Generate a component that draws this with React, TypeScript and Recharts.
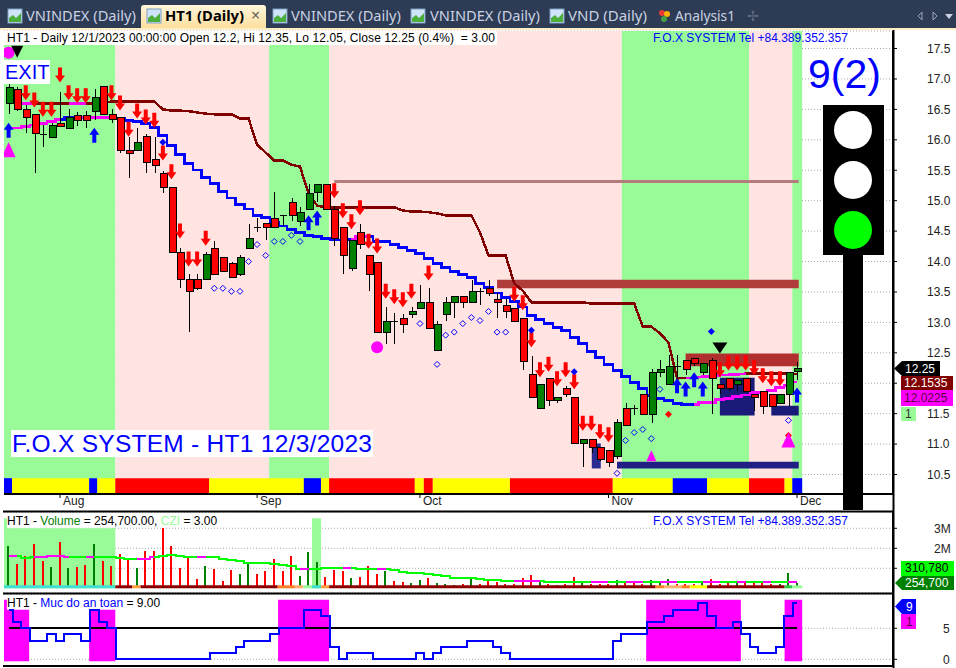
import React from "react";
import { ComposedChart, Bar, Line, Scatter, XAxis, YAxis, CartesianGrid, ReferenceArea } from "recharts";

const FONT = "'Liberation Sans', Arial, sans-serif";
const monthLabels: Record<number, string> = { 6: "Aug", 29: "Sep", 48: "Oct", 70: "Nov", 92: "Dec" };
const monthTicks = [6, 29, 48, 70, 92];
const priceTicks = [10.5, 11, 11.5, 12, 12.5, 13, 13.5, 14, 14.5, 15, 15.5, 16, 16.5, 17, 17.5];
const volumeTicks = [1, 2, 3];
const safetyTicks = [0, 5];

const opens = [16.60,16.84,16.51,16.42,16.10,16.05,16.27,16.20,16.40,16.40,16.47,16.89,16.42,16.37,15.84,15.84,16.07,15.69,15.45,15.22,14.15,13.71,13.71,13.71,14.23,14.08,13.98,13.80,14.23,14.56,14.63,14.72,14.77,14.97,14.66,14.87,15.15,15.27,14.87,14.56,13.89,14.48,14.10,14.00,12.85,13.03,13.08,13.13,13.23,13.33,12.55,13.13,13.33,13.43,13.33,13.52,13.57,13.38,13.28,13.23,13.08,12.16,11.59,12.08,11.73,11.93,11.78,11.01,11.09,10.95,10.90,10.80,11.59,11.59,11.83,11.49,12.18,11.98,12.29,12.38,12.42,12.18,12.38,11.98,12.08,11.98,12.08,11.83,11.88,11.83,11.68,11.83,12.2];
const highs = [16.91,16.87,16.57,16.43,16.25,16.27,16.79,16.50,16.45,16.47,16.84,16.89,16.50,16.37,16.04,16.20,16.10,16.05,15.48,15.22,14.23,13.79,13.79,14.15,14.33,14.08,14.00,14.10,14.61,14.71,14.63,15.15,14.77,15.05,14.89,15.28,15.27,15.28,14.92,14.56,14.35,14.61,14.10,14.00,13.26,13.16,13.13,13.26,13.61,13.56,13.02,13.41,13.43,13.43,13.69,13.57,13.69,13.48,13.38,13.23,13.08,12.44,11.98,12.08,11.78,11.96,11.78,11.09,11.09,10.95,10.90,11.42,11.67,11.65,11.83,12.23,12.38,12.47,12.47,12.38,12.42,12.34,12.42,11.98,12.08,12.05,12.08,11.83,11.88,11.83,11.83,12.18,12.35];
const lows = [16.43,16.47,16.12,15.46,15.89,16.04,16.22,16.17,16.22,16.19,16.32,16.42,16.27,15.79,15.37,15.81,15.46,15.46,15.13,14.15,13.57,12.85,13.54,13.69,13.79,13.82,13.74,13.77,14.23,14.48,14.35,14.56,14.58,14.67,14.58,14.87,14.97,14.87,14.25,13.80,13.85,14.20,13.52,12.85,12.65,12.65,12.82,13.08,13.23,12.90,12.55,13.03,13.08,13.23,13.33,13.28,13.43,13.08,13.08,13.03,12.21,11.75,11.59,11.63,11.68,11.78,11.01,10.62,10.86,10.72,10.62,10.76,11.31,11.47,11.49,11.34,12.11,11.98,12.08,12.14,12.29,12.13,11.50,11.83,11.88,11.88,11.88,11.54,11.50,11.63,11.68,11.63,12.05];
const closes = [16.86,16.51,16.37,16.12,16.10,16.25,16.22,16.37,16.32,16.32,16.70,16.42,16.35,15.84,15.79,15.97,15.64,15.59,15.22,14.15,13.71,13.52,13.56,14.13,13.80,13.85,13.75,14.08,14.38,14.56,14.56,14.56,14.77,14.76,14.82,15.12,15.27,14.87,14.38,14.10,14.35,14.28,13.79,12.85,13.03,13.03,12.97,13.18,13.33,12.90,12.98,13.33,13.43,13.33,13.52,13.52,13.48,13.33,13.18,13.03,12.36,11.78,11.98,11.73,11.78,11.83,11.01,11.09,10.95,10.75,10.70,11.37,11.32,11.59,11.49,12.19,12.24,12.29,12.29,12.23,12.34,12.34,12.08,11.93,11.93,12.05,11.88,11.78,11.63,11.63,11.83,12.18,12.25];
const stopLine: (number | null)[] = [null,16.60,16.60,16.60,16.60,16.60,16.60,16.60,16.60,16.60,16.60,16.60,16.63,16.63,16.63,16.63,16.63,16.63,16.50,16.48,16.48,16.47,16.45,16.43,16.42,16.42,16.42,16.35,16.35,15.92,15.79,15.66,15.66,15.59,15.56,15.12,14.92,14.89,14.89,14.89,14.89,14.89,14.89,14.89,14.89,14.89,14.84,14.82,14.82,14.81,14.79,14.76,14.76,14.76,14.76,14.48,14.10,14.10,14.10,13.64,13.52,13.33,13.33,13.33,13.33,13.33,13.33,13.33,13.31,13.31,13.31,13.31,13.31,13.31,12.93,12.93,12.82,12.67,12.08,12.09,12.09,12.11,12.11,12.13,12.14,12.14,12.16,12.16,12.16,12.16,12.16,12.16,12.1535];
const trendLine = [16.19,16.19,16.22,16.24,16.27,16.30,16.33,16.37,16.37,16.37,16.37,16.37,16.37,16.35,16.32,16.30,16.27,16.20,16.07,15.91,15.76,15.61,15.50,15.38,15.28,15.15,15.04,14.94,14.86,14.76,14.72,14.64,14.58,14.53,14.48,14.43,14.41,14.38,14.35,14.35,14.36,14.41,14.41,14.33,14.33,14.28,14.23,14.18,14.13,14.05,13.97,13.90,13.84,13.79,13.74,13.64,13.57,13.48,13.41,13.34,13.25,13.11,13.05,12.98,12.92,12.87,12.75,12.65,12.52,12.42,12.31,12.21,12.11,12.01,11.91,11.80,11.75,11.72,11.67,11.65,11.65,11.68,11.68,11.73,11.75,11.78,11.81,11.85,11.85,11.88,11.93,11.96,12.0225];
const stopMagentaSpans = [[1, 3], [7, 9], [79, 86]];
const trendMagentaSpans = [[0, 6], [8, 13], [40, 42], [80, 92]];

const volumes = [2.10,1.20,1.60,2.20,1.35,1.05,2.30,1.00,1.05,1.15,2.20,1.35,1.10,1.70,1.50,1.00,1.85,1.85,3.00,2.10,1.00,1.50,0.45,1.10,0.95,0.35,0.90,0.70,1.30,0.70,0.85,1.45,0.85,1.60,0.60,1.80,1.30,0.55,0.90,0.85,0.50,0.55,1.10,0.70,0.85,0.35,0.30,0.25,0.40,0.53,0.28,0.23,0.18,0.23,0.48,0.23,0.40,0.32,0.23,0.23,0.52,0.68,0.40,0.23,0.18,0.23,0.55,0.28,0.23,0.23,0.23,0.43,0.27,0.27,0.23,0.43,0.32,0.48,0.23,0.23,0.20,0.28,0.48,0.23,0.27,0.32,0.32,0.27,0.27,0.20,0.20,0.78,0.2547];
const volumeAvg = [1.60,1.60,1.52,1.57,1.57,1.60,1.60,1.57,1.57,1.57,1.57,1.57,1.57,1.53,1.48,1.48,1.48,1.57,1.60,1.65,1.62,1.57,1.57,1.57,1.57,1.48,1.40,1.37,1.28,1.28,1.28,1.23,1.18,1.10,0.98,0.98,0.98,1.02,1.02,1.02,1.02,0.97,0.97,0.97,0.97,0.90,0.82,0.77,0.77,0.72,0.67,0.60,0.53,0.52,0.50,0.47,0.43,0.40,0.35,0.35,0.35,0.35,0.35,0.33,0.32,0.32,0.32,0.32,0.32,0.32,0.32,0.32,0.32,0.32,0.32,0.32,0.32,0.32,0.32,0.32,0.32,0.32,0.32,0.32,0.32,0.32,0.32,0.32,0.32,0.32,0.32,0.32,0.3108];
const volumeMagentaSpans = [[0, 1], [3, 4], [5, 7], [9, 10], [15, 17], [22, 23], [34, 35], [39, 40], [43, 44], [59, 62], [68, 70], [72, 74], [76, 78], [81, 83], [85, 86], [88, 89], [91, 92]];
const safety = [8,6,5,3,3,4,3,4,4,3,8,6,5,0,0,0,0,0,0,0,0,0,0,0,1,1,1,2,3,3,3,4,5,5,5,8,8,7,2,0,1,1,1,0,0,0,0,0,1,0,1,2,2,2,3,3,3,2,1,0,0,0,0,0,0,0,0,0,0,0,0,3,4,4,4,6,6,7,8,8,8,9,7,5,5,6,4,2,1,1,2,7,9];
const safetyLevel = 5;

const redArrowIdx = [2,3,4,5,6,7,8,9,12,13,14,15,16,17,18,19,20,21,22,23,38,39,40,41,42,43,44,45,46,47,49,59,60,61,62,63,64,65,66,67,68,69,70,83,84,85,86,87,88,89,90];
const redArrowPrice = [16.65,16.53,16.38,16.38,16.94,16.65,16.60,16.60,16.65,16.48,16.05,16.35,16.25,16.20,15.66,15.35,14.38,13.92,13.92,14.26,15.04,14.71,14.53,14.76,14.21,14.13,13.39,13.30,13.25,13.39,13.69,13.34,13.20,12.59,12.10,12.19,11.95,12.10,11.90,11.22,11.22,11.08,11.03,12.10,12.21,12.21,12.21,12.13,12.00,11.95,11.95];
const blueArrowIdx = [0,10,35,36,78,79,80,81,92];
const blueArrowPrice = [16.28,16.20,14.76,14.84,12.08,12.03,12.18,12.03,11.93];
const openDiamondIdx = [24,25,26,27,28,29,30,31,32,33,34,48,50,51,52,53,54,55,56,57,58,71,72,73,74,75,76,91];
const openDiamondPrice = [13.56,13.56,13.51,13.51,14.00,14.28,14.10,14.33,14.33,14.43,14.33,12.98,12.31,12.79,12.84,12.98,13.08,13.03,13.18,12.84,12.84,10.52,11.06,11.19,11.24,11.09,11.90,11.39];
const solidDiamondIdx = [18,61,66,82];
const solidDiamondPrice = [15.96,12.87,12.19,12.85];
const redDotIdx = [77,91];
const redDotPrice = [11.49,11.14];
const circleIdx = [0,43];
const circlePrice = [17.43,12.59];
const bigTriangleIdx = [0,91];
const bigTrianglePrice = [15.96,11.19];
const smallTriangleIdx = [75];
const smallTrianglePrice = [10.90];
const smallBlackIdx = [1];
const smallBlackPrice = [17.35];
const bigBlackIdx = [83];
const bigBlackPrice = [12.49];

const xMin = -0.537;
const zoneRanges: [number, number, string][] = [
  [xMin, 12.45, "#98fb98"], [12.45, 30.4, "#ffe4e1"], [30.4, 37.4, "#98fb98"], [37.4, 71.55, "#ffe4e1"],
  [71.55, 86.4, "#98fb98"], [86.4, 91.45, "#ffe4e1"], [91.45, 92.6, "#98fb98"],
];
const stripRanges: [number, number, string][] = [
  [xMin, 0.4, "#0000ff"], [0.4, 9.4, "#ffff00"], [9.4, 10.35, "#0000ff"], [10.35, 12.45, "#ffff00"], [12.45, 23.4, "#ff0000"],
  [23.4, 34.45, "#ffff00"], [34.45, 36.45, "#0000ff"], [36.45, 37.4, "#ffff00"], [37.4, 47.4, "#ff0000"], [47.4, 48.45, "#ffff00"],
  [48.45, 49.5, "#ff0000"], [49.5, 58.5, "#ffff00"], [58.5, 70.5, "#ff0000"], [70.5, 77.5, "#ffff00"], [77.5, 81.5, "#0000ff"],
  [81.5, 86.4, "#ffff00"], [86.4, 90.55, "#ff0000"], [90.55, 91.45, "#ffff00"], [91.45, 92.6, "#0000ff"],
];
const priceBands: [number, number, number, number, string][] = [
  [38, 92.2, 15.34, 15.29, "#b47c7c"],
  [57, 92.2, 13.70, 13.56, "#b03c3c"],
  [79, 92.2, 12.49, 12.28, "#b03030"],
  [71, 92.2, 10.71, 10.60, "#1f1f85"],
  [68.05, 69.1, 11.01, 10.60, "#2a2a90"],
  [83, 87.05, 12.09, 11.47, "#1a1a78"],
  [89, 92.2, 11.63, 11.47, "#1a1a78"],
];
const volumeZones: [number, number, number, string][] = [
  [xMin, 12.45, 3.0, "#98fb98"], [xMin, -0.2, 3.5, "#98fb98"], [35.4, 36.45, 3.5, "#98fb98"],
];
const volumeStrip: [number, number, string][] = [
  [xMin, 12.45, "#40e0d0"], [12.45, 14.4, "#8b0000"], [14.4, 15.4, "#ffa040"], [15.4, 31.4, "#8b0000"], [31.4, 33.4, "#ff7f27"],
  [33.4, 34.4, "#ffb070"], [34.4, 35.4, "#98fb98"], [35.4, 36.45, "#40e0d0"], [36.45, 37.4, "#ffa040"], [37.4, 75.5, "#8b0000"],
  [75.5, 76.5, "#ff7f27"], [76.5, 78.5, "#ffb070"], [78.5, 79.5, "#ff7f27"], [79.5, 81.5, "#ffff00"], [81.5, 90.55, "#8b0000"],
  [90.55, 91.45, "#2ecc40"], [91.45, 92.6, "#98fb98"],
];
const safetyZones: [number, number, number, string][] = [
  [xMin, 2.4, 8, "#ff00ff"], [xMin, -0.2, 9.6, "#ff00ff"], [9.4, 12.45, 8, "#ff00ff"], [31.45, 37.4, 9.6, "#ff00ff"],
  [74.4, 85.45, 9.6, "#ff00ff"], [90.55, 92.6, 9.6, "#ff00ff"],
];

const inSpan = (i: number, spans: number[][]) => spans.some(([a, b]) => i >= a && i <= b);
const priceRows = opens.map((o, i) => ({
  i, o, h: highs[i], l: lows[i], c: closes[i],
  stop: stopLine[i], stopM: inSpan(i, stopMagentaSpans) ? stopLine[i] : null,
  trend: trendLine[i], trendM: inSpan(i, trendMagentaSpans) ? trendLine[i] : null,
}));
const volumeRows = volumes.map((v, i) => ({
  i, v, up: closes[i] > opens[i], avg: volumeAvg[i], avgM: inSpan(i, volumeMagentaSpans) ? volumeAvg[i] : null,
}));
const safetyRows = safety.map((s, i) => ({ i, s, lvl: safetyLevel }));
const pts = (idx: number[], vals: number[]) => idx.map((i, k) => ({ i, v: vals[k] }));

const xDomain: [number, number] = [xMin, 103.2];
const priceDomain: [number, number] = [10.18, 17.788];

const Candle = (p: any) => {
  const { x, y, width, height, payload: d } = p;
  const range = d.h - d.l || 1;
  const yOf = (v: number) => y + ((d.h - v) / range) * height;
  const cx = Math.round(x + width / 2) + 0.5;
  const top = Math.round(yOf(Math.max(d.o, d.c)));
  const bot = Math.round(yOf(Math.min(d.o, d.c)));
  const up = d.c > d.o;
  return (
    <g shapeRendering="crispEdges">
      <line x1={cx} x2={cx} y1={y} y2={y + height} stroke="#000" strokeWidth={1} />
      {d.c === d.o ? (
        <line x1={cx - 3.5} x2={cx + 3.5} y1={top + 0.5} y2={top + 0.5} stroke="#000" strokeWidth={1} />
      ) : (
        <rect x={cx - 3.5} y={top + 0.5} width={7} height={Math.max(bot - top, 1)} fill={up ? "#008000" : "#ff0000"} stroke="#000" strokeWidth={1} />
      )}
    </g>
  );
};
const VolBar = (p: any) => (
  <rect x={p.x} y={p.y} width={p.width} height={p.height} fill={p.payload.up ? "#008000" : "#ff0000"} shapeRendering="crispEdges" />
);
const DownArrow = (p: any) => {
  const { cx, cy } = p;
  return <path d={`M${cx} ${cy} L${cx - 5} ${cy - 7} L${cx - 2} ${cy - 7} L${cx - 2} ${cy - 15} L${cx + 2} ${cy - 15} L${cx + 2} ${cy - 7} L${cx + 5} ${cy - 7} Z`} fill="#ff0000" />;
};
const UpArrow = (p: any) => {
  const { cx, cy } = p;
  return <path d={`M${cx} ${cy} L${cx - 5} ${cy + 7} L${cx - 2} ${cy + 7} L${cx - 2} ${cy + 15} L${cx + 2} ${cy + 15} L${cx + 2} ${cy + 7} L${cx + 5} ${cy + 7} Z`} fill="#0000ff" />;
};
const OpenDiamond = (p: any) => {
  const { cx, cy } = p;
  return <path d={`M${cx} ${cy - 3} L${cx + 3} ${cy} L${cx} ${cy + 3} L${cx - 3} ${cy} Z`} fill="none" stroke="#0000ff" strokeWidth={1} />;
};
const SolidDiamond = (p: any) => {
  const { cx, cy } = p;
  return <path d={`M${cx} ${cy - 3.5} L${cx + 3.5} ${cy} L${cx} ${cy + 3.5} L${cx - 3.5} ${cy} Z`} fill="#0000ff" />;
};
const RedDot = (p: any) => {
  const { cx, cy } = p;
  return <path d={`M${cx} ${cy - 3.5} L${cx + 3.5} ${cy} L${cx} ${cy + 3.5} L${cx - 3.5} ${cy} Z`} fill="#ff0000" />;
};
const Circle = (p: any) => <circle cx={p.cx} cy={p.cy} r={6} fill="#ff00ff" />;
const triUp = (w: number, h: number) => (p: any) => (
  <path d={`M${p.cx} ${p.cy} L${p.cx + w / 2} ${p.cy + h} L${p.cx - w / 2} ${p.cy + h} Z`} fill="#ff00ff" />
);
const triDown = (w: number, h: number) => (p: any) => (
  <path d={`M${p.cx} ${p.cy} L${p.cx + w / 2} ${p.cy - h} L${p.cx - w / 2} ${p.cy - h} Z`} fill="#000" />
);
const MonthTick = (p: any) => (
  <text x={p.x + 3} y={505} fontSize={12} fontFamily={FONT} fill="#222">{monthLabels[p.payload.value]}</text>
);
const axisTick = { fontSize: 12, fontFamily: FONT, fill: "#222" };
const noop = { isAnimationActive: false, legendType: "none" as const };
const crisp = { shapeRendering: "crispEdges" };

function PricePane() {
  return (
    <ComposedChart width={956} height={511} data={priceRows} margin={{ top: 31, right: 0, bottom: 0, left: 4 }} style={{ position: "absolute", left: 0, top: 0 }}>
      <CartesianGrid horizontal vertical={false} stroke="#aaa" strokeDasharray="1 2" />
      <XAxis type="number" dataKey="i" domain={xDomain} allowDataOverflow ticks={monthTicks} interval={0} height={17} tick={<MonthTick />} tickSize={4} tickLine={{ stroke: "#000" }} axisLine={{ stroke: "#000", strokeWidth: 2 }} />
      <YAxis orientation="right" width={63} type="number" domain={priceDomain} allowDataOverflow ticks={priceTicks} interval={0} tick={axisTick} tickFormatter={(v: number) => (v === 12 ? "" : v.toFixed(1))} tickSize={4} tickMargin={30} tickLine={{ stroke: "#000" }} axisLine={{ stroke: "#000", strokeWidth: 2 }} />
      {zoneRanges.map(([a, b, c], k) => <ReferenceArea key={"z" + k} x1={a} x2={b} fill={c} fillOpacity={1} stroke="none" />)}
      {stripRanges.map(([a, b, c], k) => <ReferenceArea key={"s" + k} x1={a} x2={b} y1={10.19} y2={10.44} fill={c} fillOpacity={1} stroke="none" />)}
      {priceBands.map(([a, b, hi, lo, c], k) => <ReferenceArea key={"b" + k} x1={a} x2={b} y1={lo} y2={hi} fill={c} fillOpacity={1} stroke="none" />)}
      <Line dataKey="stop" type="linear" stroke="#800000" strokeWidth={2.5} dot={false} {...noop} {...crisp} />
      <Line dataKey="stopM" type="linear" stroke="#ff00ff" strokeWidth={2.5} dot={false} {...noop} {...crisp} />
      <Line dataKey="trend" type="step" stroke="#0000ff" strokeWidth={2.5} dot={false} {...noop} {...crisp} />
      <Line dataKey="trendM" type="step" stroke="#ff00ff" strokeWidth={2.5} dot={false} {...noop} {...crisp} />
    </ComposedChart>
  );
}

function MarksPane() {
  return (
    <ComposedChart width={956} height={511} data={priceRows} margin={{ top: 31, right: 63, bottom: 17, left: 4 }} style={{ position: "absolute", left: 0, top: 0 }}>
      <XAxis hide type="number" dataKey="i" domain={xDomain} allowDataOverflow />
      <YAxis hide type="number" domain={priceDomain} allowDataOverflow />
      <Bar dataKey={(r: any) => [r.l, r.h]} barSize={7} shape={<Candle />} {...noop} />
      <Scatter data={pts(openDiamondIdx, openDiamondPrice)} dataKey="v" shape={<OpenDiamond />} {...noop} />
      <Scatter data={pts(redArrowIdx, redArrowPrice)} dataKey="v" shape={<DownArrow />} {...noop} />
      <Scatter data={pts(blueArrowIdx, blueArrowPrice)} dataKey="v" shape={<UpArrow />} {...noop} />
      <Scatter data={pts(solidDiamondIdx, solidDiamondPrice)} dataKey="v" shape={<SolidDiamond />} {...noop} />
      <Scatter data={pts(redDotIdx, redDotPrice)} dataKey="v" shape={<RedDot />} {...noop} />
      <Scatter data={pts(circleIdx, circlePrice)} dataKey="v" shape={<Circle />} {...noop} />
      <Scatter data={pts(bigTriangleIdx, bigTrianglePrice)} dataKey="v" shape={triUp(14, 15)} {...noop} />
      <Scatter data={pts(smallTriangleIdx, smallTrianglePrice)} dataKey="v" shape={triUp(10, 11)} {...noop} />
      <Scatter data={pts(smallBlackIdx, smallBlackPrice)} dataKey="v" shape={triDown(12, 12)} {...noop} />
      <Scatter data={pts(bigBlackIdx, bigBlackPrice)} dataKey="v" shape={triDown(15, 11)} {...noop} />
    </ComposedChart>
  );
}

function VolumePane() {
  return (
    <ComposedChart width={956} height={83} data={volumeRows} margin={{ top: 1, right: 0, bottom: 1, left: 4 }} style={{ position: "absolute", left: 0, top: 511 }}>
      <CartesianGrid horizontal vertical={false} stroke="#aaa" strokeDasharray="1 2" />
      <XAxis hide type="number" dataKey="i" domain={xDomain} allowDataOverflow />
      <YAxis orientation="right" width={63} type="number" domain={[-0.235, 3.815]} allowDataOverflow ticks={volumeTicks} interval={0} tick={axisTick} tickFormatter={(v: number) => (v === 1 ? "" : `${v}M`)} tickSize={4} tickMargin={37} tickLine={{ stroke: "#000" }} axisLine={{ stroke: "#000", strokeWidth: 2 }} />
      {volumeZones.map(([a, b, t, c], k) => <ReferenceArea key={"z" + k} x1={a} x2={b} y1={0} y2={t} fill={c} fillOpacity={1} stroke="none" />)}
      <Bar dataKey="v" barSize={2} shape={<VolBar />} {...noop} />
      {volumeStrip.map(([a, b, c], k) => <ReferenceArea key={"s" + k} x1={a} x2={b} y1={0} y2={0.15} fill={c} fillOpacity={1} stroke="none" zIndex={350} />)}
      <Line dataKey="avg" type="step" stroke="#00ff00" strokeWidth={2} dot={false} {...noop} {...crisp} />
      <Line dataKey="avgM" type="step" stroke="#ff00ff" strokeWidth={2} dot={false} {...noop} {...crisp} />
    </ComposedChart>
  );
}

function SafetyPane() {
  return (
    <ComposedChart width={956} height={72} data={safetyRows} margin={{ top: 0, right: 0, bottom: 0, left: 4 }} style={{ position: "absolute", left: 0, top: 594 }}>
      <CartesianGrid horizontal vertical={false} stroke="#aaa" strokeDasharray="1 2" />
      <XAxis hide type="number" dataKey="i" domain={xDomain} allowDataOverflow />
      <YAxis orientation="right" width={63} type="number" domain={[-1.08, 10.53]} allowDataOverflow ticks={safetyTicks} interval={0} tick={axisTick} tickSize={4} tickMargin={46} tickLine={{ stroke: "#000" }} axisLine={{ stroke: "#000", strokeWidth: 2 }} />
      {safetyZones.map(([a, b, t, c], k) => <ReferenceArea key={"z" + k} x1={a} x2={b} y1={-0.3} y2={t} fill={c} fillOpacity={1} stroke="none" />)}
      <Line dataKey="lvl" type="linear" stroke="#000" strokeWidth={2} dot={false} {...noop} {...crisp} />
      <Line dataKey="s" type="step" stroke="#0000ff" strokeWidth={2} dot={false} {...noop} {...crisp} />
    </ComposedChart>
  );
}

const tabs = [
  { x: 8, tx: 26, w: 110, label: "VNINDEX (Daily)" },
  { x: 273, tx: 291, w: 110, label: "VNINDEX (Daily)" },
  { x: 411, tx: 430, w: 110, label: "VNINDEX (Daily)" },
  { x: 550, tx: 568, w: 79, label: "VND (Daily)" },
];
const TabIcon = ({ x }: { x: number }) => (
  <g>
    <rect x={x} y={9} width={14} height={14} fill="#cfe4fb" stroke="#7f9fc0" />
    <path d={`M${x + 1} ${22} L${x + 1} ${18} L${x + 5} ${15} L${x + 8} ${18} L${x + 13} ${13} L${x + 13} ${22} Z`} fill="#4caf3c" />
  </g>
);

function Overlay() {
  const fox = "F.O.X SYSTEM Tel +84.389.352.357";
  return (
    <svg width={956} height={668} style={{ position: "absolute", left: 0, top: 0, pointerEvents: "none" }} fontFamily={FONT}>
      <defs>
        <linearGradient id="activeTab" x1="0" y1="0" x2="0" y2="1">
          <stop offset="0" stopColor="#fff6dc" />
          <stop offset="1" stopColor="#fcdf9e" />
        </linearGradient>
      </defs>
      <rect x={0} y={0} width={956} height={28} fill="#2d3b55" />
      <rect x={0} y={28} width={956} height={2} fill="#fdeec6" />
      <path d="M141 28 L141 8 Q141 5 144 5 L263 5 Q266 5 266 8 L266 28 Z" fill="url(#activeTab)" />
      <TabIcon x={147} />
      <text x={165} y={21} fontSize={14} fontWeight="bold" fontFamily="'Noto Sans', sans-serif" fill="#000" textLength={79} lengthAdjust="spacingAndGlyphs">HT1 (Daily)</text>
      <text x={251} y={21} fontSize={16} fontFamily="'Noto Sans', sans-serif" fill="#665">×</text>
      {tabs.map((t, k) => (
        <g key={k}>
          <TabIcon x={t.x} />
          <text x={t.tx} y={21} fontSize={14} fontFamily="'Noto Sans', sans-serif" fill="#c9d2e2" textLength={t.w} lengthAdjust="spacingAndGlyphs">{t.label}</text>
        </g>
      ))}
      <circle cx={662} cy={13} r={3} fill="#e53935" />
      <circle cx={667} cy={14} r={3} fill="#ffb300" />
      <circle cx={664} cy={19} r={3} fill="#43a047" />
      <text x={675} y={21} fontSize={14} fontFamily="'Noto Sans', sans-serif" fill="#c9d2e2" textLength={60} lengthAdjust="spacingAndGlyphs">Analysis1</text>
      <text x={747} y={21} fontSize={14} fontFamily="'Noto Sans', sans-serif" fill="#5f6b80">✢</text>
      <path d="M922 12 L918 16 L922 20 Z" fill="none" stroke="#9aa6b8" />
      <path d="M933 12 L937 16 L933 20 Z" fill="none" stroke="#9aa6b8" />
      <path d="M945 14 L953 14 L949 19 Z" fill="#c9d2e2" />

      <rect x={4} y={31} width={493} height={14} fill="#fff" />
      <text x={7} y={42} fontSize={12} fill="#000" textLength={488} style={{ whiteSpace: "pre" }}>HT1 - Daily 12/1/2023 00:00:00 Open 12.2, Hi 12.35, Lo 12.05, Close 12.25 (0.4%)  = 3.00</text>
      <text x={653} y={42} fontSize={12} fill="#0000ff">{fox}</text>
      <rect x={4} y={60} width={46} height={24} fill="#fff" />
      <text x={5} y={79} fontSize={20} fill="#0000ff">EXIT</text>
      <rect x={11} y={430} width={362} height={27} fill="#fff" />
      <text x={12} y={452} fontSize={24.5} fill="#0000ff" textLength={360}>F.O.X SYSTEM - HT1 12/3/2023</text>
      <text x={808} y={88} fontSize={41} fill="#0000ff">9(2)</text>

      <rect x={823} y={105} width={61} height={150} fill="#000" />
      <rect x={843} y={255} width={20} height={255} fill="#000" />
      <circle cx={853} cy={130} r={19} fill="#fff" />
      <circle cx={853} cy={180} r={19} fill="#fff" />
      <circle cx={853} cy={230} r={19} fill="#00ff00" />

      <rect x={3} y={510.5} width={890} height={2} fill="#000" />
      <rect x={3} y={592.5} width={890} height={2} fill="#000" />
      <rect x={3} y={665} width={890} height={2} fill="#000" />
      <rect x={892.5} y={30} width={2} height={638} fill="#000" />

      <path d="M894 368.5 L902 361 L940 361 L940 376 L902 376 Z" fill="#000" />
      <text x={905} y={373} fontSize={12} fill="#fff">12.25</text>
      <rect x={901} y={376} width={52} height={14} fill="#800000" />
      <text x={904} y={387} fontSize={12} fill="#fff">12.1535</text>
      <rect x={901} y={390} width={52} height={16} fill="#ff00ff" />
      <text x={904} y={402} fontSize={12} fill="#5a0040">12.0225</text>
      <rect x={901} y={407} width={15} height={14} fill="#98fb98" />
      <text x={905} y={418} fontSize={12} fill="#333">1</text>

      <text x={7} y={525} fontSize={12}>
        <tspan fill="#000">HT1 - </tspan><tspan fill="#008000">Volume</tspan><tspan fill="#000"> = 254,700.00, </tspan><tspan fill="#98fb98">CZI</tspan><tspan fill="#000"> = 3.00</tspan>
      </text>
      <text x={653} y={525} fontSize={12} fill="#0000ff">{fox}</text>
      <rect x={901} y={561} width={53} height={15} fill="#00ff00" />
      <text x={905} y={572} fontSize={12} fill="#000">310,780</text>
      <path d="M895 583 L902 576 L954 576 L954 590 L902 590 Z" fill="#008000" />
      <text x={905} y={587} fontSize={12} fill="#fff">254,700</text>

      <text x={7} y={607} fontSize={12}>
        <tspan fill="#000">HT1 - </tspan><tspan fill="#0000ff">Muc do an toan</tspan><tspan fill="#000"> = 9.00</tspan>
      </text>
      <path d="M895 606.5 L902 599 L916 599 L916 614 L902 614 Z" fill="#0000ff" />
      <text x={906} y={611} fontSize={12} fill="#fff">9</text>
      <rect x={901} y={614} width={15} height={15} fill="#ff00ff" />
      <text x={906} y={626} fontSize={12} fill="#5a0040">1</text>
    </svg>
  );
}

export default function App() {
  return (
    <div style={{ position: "absolute", left: 0, top: 0, width: 956, height: 668, overflow: "hidden", background: "#fff" }}>
      <PricePane />
      <MarksPane />
      <VolumePane />
      <SafetyPane />
      <Overlay />
    </div>
  );
}
